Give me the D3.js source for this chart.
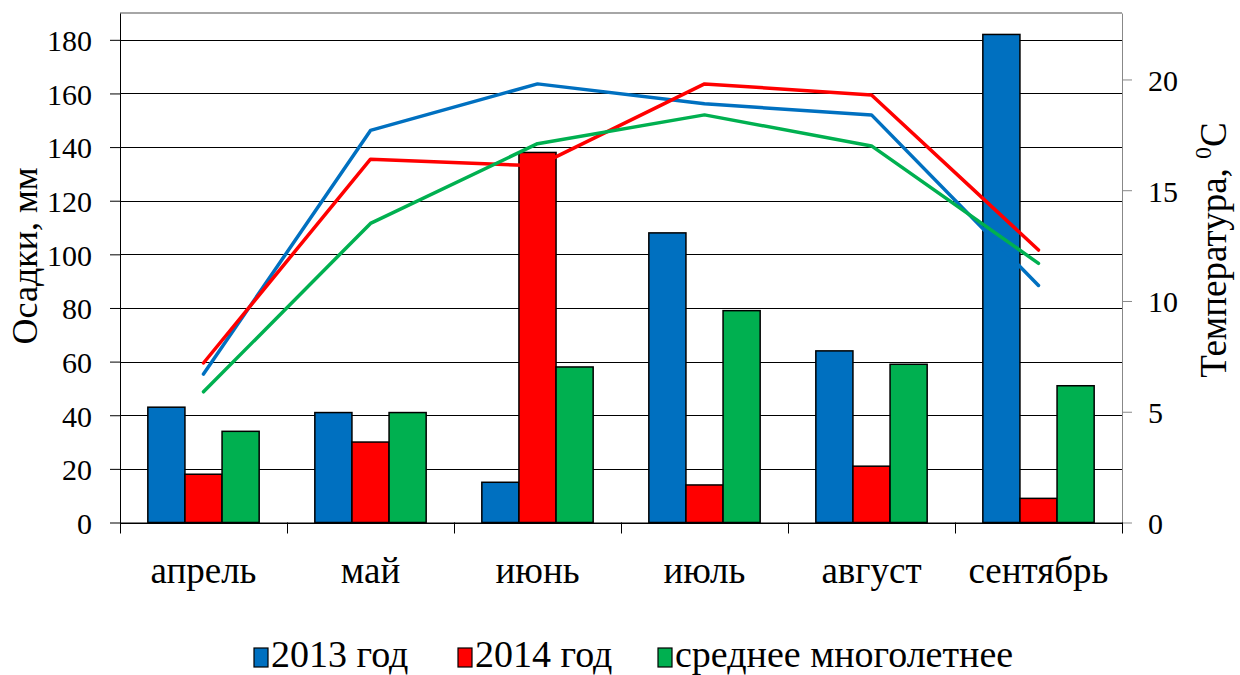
<!DOCTYPE html>
<meta charset="utf-8">
<style>
body { margin: 0; background: #fff; }
svg text { font-family: "Liberation Serif", "Times New Roman", Times, "DejaVu Serif", "Noto Serif", serif; }
.axis text { font-size: 30px; fill: #000; }
.axis .domain { stroke: #000; }
.axis.right .domain, .axis.right line { stroke: #888; }
.grid line { stroke: #000; stroke-width: 1; }
.cat { font-size: 37px; text-anchor: middle; }
.legend text { font-size: 38px; }
</style>
<body>
<script src="https://cdnjs.cloudflare.com/ajax/libs/d3/7.8.5/d3.min.js"></script>
<script>
// months
var months = ["апрель", "май", "июнь", "июль", "август", "сентябрь"];
var seriesNames = ["2013 год", "2014 год", "среднее многолетнее"];
var colors = ["#0070C0", "#FF0000", "#00B050"];

// precipitation, mm (bars, left axis)
var rain2013 = [43, 41, 15, 108, 64, 182];
var rain2014 = [18, 30, 138, 14, 21, 9];
var rainAvg = [34, 41, 58, 79, 59, 51];

// temperature, C (lines, right axis)
var temp2013 = [6.7, 17.7, 19.8, 18.9, 18.4, 10.7];
var temp2014 = [7.2, 16.4, 16.1, 19.8, 19.3, 12.3];
var tempAvg = [5.9, 13.5, 17.1, 18.4, 17.0, 11.7];

var rainTicks = d3.range(0, 181, 20);
var tempTicks = [0, 5, 10, 15, 20];

var W = 1240, H = 675;
var pLeft = 120, pRight = 1122, pTop = 13, pBottom = 522.5;

var svg = d3.select("body").append("svg")
    .attr("width", W)
    .attr("height", H);

var x = d3.scaleBand().domain(months).range([pLeft, pRight]);
var xb = d3.scaleLinear().domain([0, months.length]).range([pLeft, pRight]);
var xs = d3.scaleBand().domain(seriesNames).range([0, x.bandwidth()]).paddingOuter(0.75);
var y = d3.scaleLinear().domain([0, 190]).range([pBottom, pTop]);
var y2 = d3.scaleLinear().domain([0, 23]).range([pBottom, pTop]);

// grid
svg.append("g").attr("class", "grid")
  .selectAll("line").data(rainTicks).enter().append("line")
    .attr("x1", pLeft).attr("x2", pRight)
    .attr("y1", function(d) { return Math.round(y(d)) + 0.5; })
    .attr("y2", function(d) { return Math.round(y(d)) + 0.5; });

// top border
svg.append("line")
    .attr("x1", pLeft).attr("x2", pRight)
    .attr("y1", pTop).attr("y2", pTop)
    .attr("stroke", "#888").attr("stroke-width", 1.5);

// bars
var rain = [rain2013, rain2014, rainAvg];
var barData = [];
months.forEach(function(m, i) {
  seriesNames.forEach(function(s, j) {
    barData.push({m: m, s: s, v: rain[j][i], c: colors[j]});
  });
});
svg.append("g").selectAll("rect").data(barData).enter().append("rect")
    .attr("x", function(d) { return x(d.m) + xs(d.s); })
    .attr("width", xs.bandwidth())
    .attr("y", function(d) { return y(d.v); })
    .attr("height", function(d) { return pBottom - y(d.v); })
    .attr("fill", function(d) { return d.c; })
    .attr("stroke", "#000")
    .attr("stroke-width", 1.5);

// lines
var temps = [temp2013, temp2014, tempAvg];
var line = d3.line()
    .x(function(d, i) { return x(months[i]) + x.bandwidth() / 2; })
    .y(function(d) { return y2(d); });
temps.forEach(function(t, j) {
  svg.append("path")
      .datum(t)
      .attr("d", line)
      .attr("fill", "none")
      .attr("stroke", colors[j])
      .attr("stroke-width", 3.5)
      .attr("stroke-linecap", "round")
      .attr("stroke-linejoin", "round");
});

// left axis
svg.append("g")
    .attr("class", "axis")
    .attr("transform", "translate(" + pLeft + ",0)")
    .call(d3.axisLeft(y).tickValues(rainTicks).tickSize(10).tickSizeOuter(0).tickPadding(18))
  .selectAll("text").attr("dy", "0.36em");

// right axis
svg.append("g")
    .attr("class", "axis right")
    .attr("transform", "translate(" + pRight + ",0)")
    .call(d3.axisRight(y2).tickValues(tempTicks).tickSize(10).tickSizeOuter(0).tickPadding(16))
  .selectAll("text").attr("dy", "0.36em");

// bottom axis (ticks between categories)
var xa = svg.append("g")
    .attr("class", "axis")
    .attr("transform", "translate(0," + pBottom + ")")
    .call(d3.axisBottom(xb).ticks(months.length).tickFormat("").tickSize(11).tickSizeOuter(0));
xa.selectAll("line").attr("stroke", "#000");

svg.append("g").selectAll("text").data(months).enter().append("text")
    .attr("class", "cat")
    .attr("x", function(d) { return x(d) + x.bandwidth() / 2; })
    .attr("y", 583)
    .text(function(d) { return d; });

// axis titles
svg.append("text")
    .attr("transform", "translate(37,256) rotate(-90)")
    .style("text-anchor", "middle")
    .style("font-size", "36px")
    .text("Осадки, мм");

var t2 = svg.append("text")
    .attr("transform", "translate(1226,250) rotate(-90)")
    .style("text-anchor", "middle")
    .style("font-size", "37px");
t2.append("tspan").text("Температура, ");
t2.append("tspan").attr("dy", -15).style("font-size", "24px").text("0");
t2.append("tspan").attr("dy", 15).text("С");

// legend
var legX = [254, 458, 658];
var leg = svg.append("g").attr("class", "legend");
seriesNames.forEach(function(s, j) {
  leg.append("rect")
      .attr("x", legX[j]).attr("y", 648)
      .attr("width", 14).attr("height", 19)
      .attr("fill", colors[j])
      .attr("stroke", "#000").attr("stroke-width", 1.2);
  leg.append("text")
      .attr("x", legX[j] + 17).attr("y", 667)
      .text(s);
});
</script>
</body>
